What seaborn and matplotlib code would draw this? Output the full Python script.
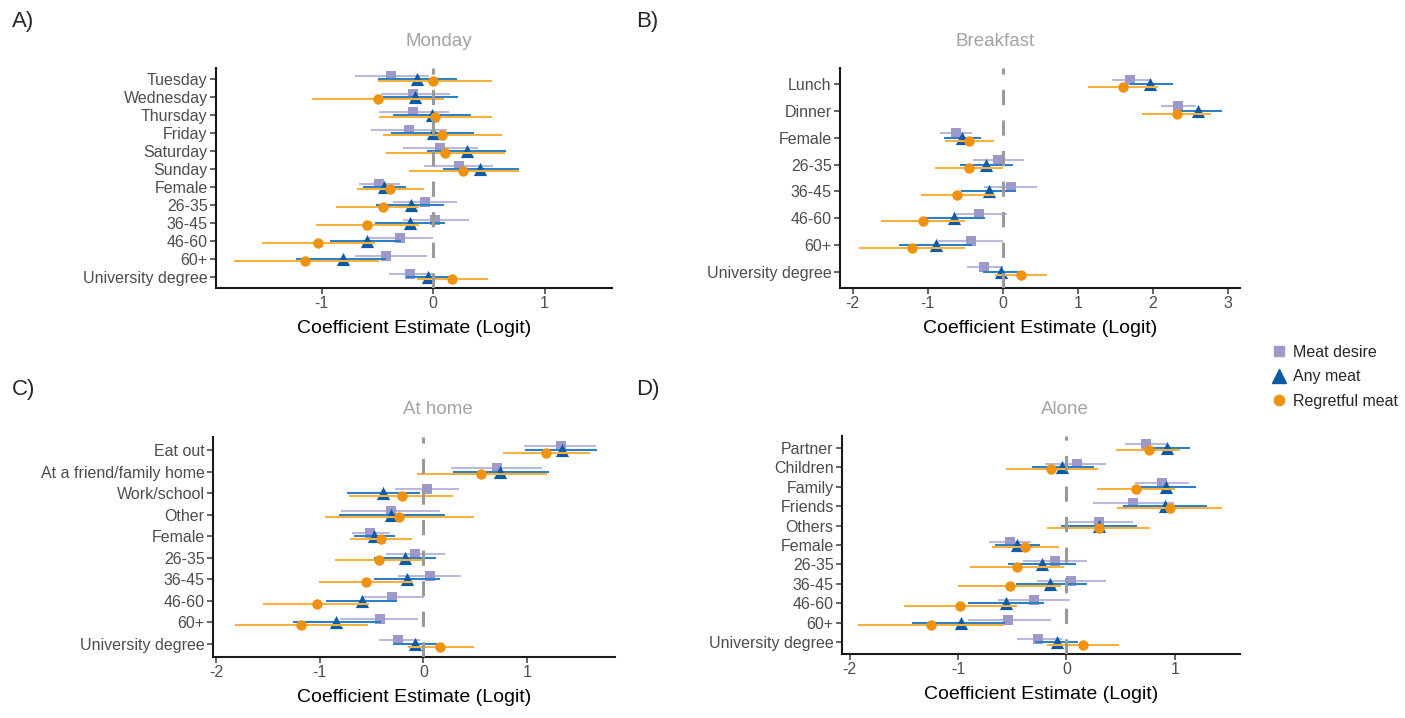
import numpy as np
import pandas as pd
import matplotlib
matplotlib.use("Agg")
import matplotlib.pyplot as plt
from matplotlib.lines import Line2D
import seaborn as sns

# ---- data ----
series = ["Meat desire", "Any meat", "Regretful meat"]

# A) reference: Monday
a_labels = ["Tuesday", "Wednesday", "Thursday", "Friday", "Saturday", "Sunday",
            "Female", "26-35", "36-45", "46-60", "60+", "University degree"]
a_md = [-0.38, -0.18, -0.18, -0.22, 0.06, 0.23, -0.49, -0.07, 0.02, -0.30, -0.42, -0.21]
a_md_lo = [-0.70, -0.47, -0.49, -0.56, -0.27, -0.08, -0.67, -0.36, -0.27, -0.59, -0.70, -0.40]
a_md_hi = [-0.04, 0.15, 0.14, 0.12, 0.40, 0.54, -0.30, 0.21, 0.32, 0.00, -0.06, -0.01]
a_am = [-0.15, -0.16, -0.01, 0.00, 0.30, 0.42, -0.44, -0.20, -0.21, -0.59, -0.81, -0.05]
a_am_lo = [-0.50, -0.45, -0.36, -0.38, -0.06, 0.09, -0.63, -0.51, -0.52, -0.93, -1.23, -0.24]
a_am_hi = [0.21, 0.22, 0.34, 0.37, 0.65, 0.77, -0.24, 0.10, 0.11, -0.29, -0.42, 0.15]
a_rm = [0.00, -0.50, 0.02, 0.08, 0.11, 0.27, -0.39, -0.45, -0.59, -1.03, -1.15, 0.17]
a_rm_lo = [-0.50, -1.09, -0.49, -0.45, -0.42, -0.22, -0.68, -0.87, -1.05, -1.54, -1.79, -0.15]
a_rm_hi = [0.53, 0.10, 0.53, 0.62, 0.64, 0.77, -0.08, -0.13, -0.13, -0.52, -0.49, 0.49]

# B) reference: Breakfast
b_labels = ["Lunch", "Dinner", "Female", "26-35", "36-45", "46-60", "60+", "University degree"]
b_md = [1.69, 2.34, -0.63, -0.07, 0.11, -0.32, -0.42, -0.25]
b_md_lo = [1.45, 2.11, -0.84, -0.40, -0.25, -0.67, -0.86, -0.48]
b_md_hi = [1.96, 2.58, -0.41, 0.28, 0.46, 0.05, 0.00, 0.00]
b_am = [1.96, 2.60, -0.54, -0.22, -0.19, -0.65, -0.89, -0.03]
b_am_lo = [1.69, 2.33, -0.78, -0.57, -0.56, -1.04, -1.38, -0.26]
b_am_hi = [2.27, 2.92, -0.29, 0.14, 0.18, -0.24, -0.41, 0.21]
b_rm = [1.60, 2.32, -0.45, -0.45, -0.61, -1.07, -1.21, 0.24]
b_rm_lo = [1.13, 1.86, -0.77, -0.91, -1.09, -1.62, -1.92, -0.11]
b_rm_hi = [2.07, 2.77, -0.12, 0.00, -0.11, -0.51, -0.51, 0.59]

# C) reference: At home
c_labels = ["Eat out", "At a friend/family home", "Work/school", "Other", "Female",
            "26-35", "36-45", "46-60", "60+", "University degree"]
c_md = [1.33, 0.71, 0.04, -0.31, -0.51, -0.08, 0.06, -0.30, -0.42, -0.24]
c_md_lo = [0.97, 0.27, -0.27, -0.79, -0.69, -0.36, -0.24, -0.60, -0.80, -0.43]
c_md_hi = [1.67, 1.15, 0.34, 0.16, -0.32, 0.21, 0.36, 0.01, -0.05, -0.03]
c_am = [1.34, 0.74, -0.39, -0.31, -0.48, -0.18, -0.16, -0.59, -0.84, -0.08]
c_am_lo = [0.98, 0.29, -0.74, -0.81, -0.67, -0.48, -0.48, -0.94, -1.26, -0.29]
c_am_hi = [1.68, 1.21, -0.03, 0.21, -0.27, 0.12, 0.16, -0.25, -0.41, 0.13]
c_rm = [1.18, 0.56, -0.21, -0.23, -0.41, -0.43, -0.55, -1.03, -1.18, 0.16]
c_rm_lo = [0.77, -0.06, -0.72, -0.95, -0.71, -0.85, -1.01, -1.55, -1.82, -0.15]
c_rm_hi = [1.61, 1.19, 0.29, 0.49, -0.11, -0.01, -0.10, -0.52, -0.53, 0.49]

# D) reference: Alone
d_labels = ["Partner", "Children", "Family", "Friends", "Others", "Female",
            "26-35", "36-45", "46-60", "60+", "University degree"]
d_md = [0.73, 0.10, 0.88, 0.61, 0.30, -0.52, -0.11, 0.04, -0.30, -0.54, -0.26]
d_md_lo = [0.54, -0.20, 0.63, 0.24, -0.01, -0.71, -0.40, -0.27, -0.63, -0.91, -0.46]
d_md_hi = [0.92, 0.36, 1.13, 0.99, 0.61, -0.33, 0.19, 0.36, 0.03, -0.14, -0.04]
d_am = [0.93, -0.04, 0.92, 0.91, 0.30, -0.46, -0.23, -0.15, -0.56, -0.97, -0.09]
d_am_lo = [0.73, -0.32, 0.66, 0.52, -0.05, -0.66, -0.54, -0.47, -0.91, -1.42, -0.29]
d_am_hi = [1.14, 0.25, 1.19, 1.30, 0.65, -0.24, 0.09, 0.19, -0.21, -0.57, 0.11]
d_rm = [0.76, -0.14, 0.64, 0.95, 0.30, -0.38, -0.46, -0.52, -0.98, -1.25, 0.15]
d_rm_lo = [0.46, -0.56, 0.28, 0.47, -0.18, -0.69, -0.89, -1.00, -1.50, -1.92, -0.18]
d_rm_hi = [1.05, 0.29, 1.00, 1.43, 0.77, -0.07, -0.02, -0.05, -0.46, -0.58, 0.48]

panels = [
    ("A)", "Monday", a_labels, [(a_md, a_md_lo, a_md_hi), (a_am, a_am_lo, a_am_hi), (a_rm, a_rm_lo, a_rm_hi)]),
    ("B)", "Breakfast", b_labels, [(b_md, b_md_lo, b_md_hi), (b_am, b_am_lo, b_am_hi), (b_rm, b_rm_lo, b_rm_hi)]),
    ("C)", "At home", c_labels, [(c_md, c_md_lo, c_md_hi), (c_am, c_am_lo, c_am_hi), (c_rm, c_rm_lo, c_rm_hi)]),
    ("D)", "Alone", d_labels, [(d_md, d_md_lo, d_md_hi), (d_am, d_am_lo, d_am_hi), (d_rm, d_rm_lo, d_rm_hi)]),
]

# ---- style ----
point_col = {"Meat desire": "#9d99cb", "Any meat": "#0b5aa8", "Regretful meat": "#ef920f"}
line_col = {"Meat desire": "#bbb8de", "Any meat": "#2b80c9", "Regretful meat": "#f8b23c"}
markers = {"Meat desire": "s", "Any meat": "^", "Regretful meat": "o"}
msize = {"Meat desire": 46, "Any meat": 90, "Regretful meat": 56}
dodge = {"Meat desire": -0.17, "Any meat": 0.0, "Regretful meat": 0.12}

sns.set_theme(style="ticks")
plt.rcParams["font.family"] = ["Liberation Sans", "DejaVu Sans"]

W, H = 1405, 718
fig = plt.figure(figsize=(W / 100, H / 100), dpi=100)

def px_box(l, r, t, b):
    return [l / W, 1 - b / H, (r - l) / W, (b - t) / H]

boxes = [px_box(216, 612, 68, 288), px_box(840, 1240, 68, 288),
         px_box(213, 615, 437, 657), px_box(842, 1240, 436, 654)]
xlims = [(-1.95, 1.605), (-2.17, 3.16), (-2.03, 1.85), (-2.07, 1.60)]
xticks = [[-1, 0, 1], [-2, -1, 0, 1, 2, 3], [-2, -1, 0, 1], [-2, -1, 0, 1]]
letter_pos = [(12, 22), (636, 22), (12, 390), (636, 390)]
title_pos = [(439, 42), (995, 42), (438, 410), (1065, 410)]

for (letter, ref, labels, vals), box, xl, xt, lp, tp in zip(
        panels, boxes, xlims, xticks, letter_pos, title_pos):
    ax = fig.add_axes(box)
    rows = []
    for s, (est, lo, hi) in zip(series, vals):
        for i, lab in enumerate(labels):
            rows.append({"term": lab, "row": i, "series": s,
                         "est": est[i], "lo": lo[i], "hi": hi[i]})
    df = pd.DataFrame(rows)
    df["y"] = df["row"] + df["series"].map(dodge)

    for k, s in enumerate(series):
        sub = df[df["series"] == s]
        ax.hlines(sub["y"], sub["lo"], sub["hi"], color=line_col[s], lw=1.5, zorder=2 + 2 * k)
        sns.scatterplot(data=sub, x="est", y="y", marker=markers[s], color=point_col[s],
                        s=msize[s], linewidth=0, ax=ax, legend=False, zorder=3 + 2 * k)

    ax.axvline(0, color="#9a9a9a", lw=2.2, ls=(0, (5, 5)), zorder=10)

    n = len(labels)
    ax.set_ylim(n - 0.4, -0.6)
    ax.set_yticks(range(n))
    ax.set_yticklabels(labels)
    ax.set_xlim(*xl)
    ax.set_xticks(xt)
    ax.set_xticklabels([str(t) for t in xt])
    ax.set_ylabel("")
    ax.set_xlabel("Coefficient Estimate (Logit)", fontsize=14, color="black", labelpad=6)
    ax.tick_params(axis="both", labelsize=11.5, colors="#4d4d4d", length=4, width=1.2, pad=2)
    sns.despine(ax=ax)
    for sp in ("left", "bottom"):
        ax.spines[sp].set_linewidth(1.5)
        ax.spines[sp].set_color("#1a1a1a")

    fig.text(lp[0] / W, 1 - lp[1] / H, letter, fontsize=16, va="center", ha="left")
    fig.text(tp[0] / W, 1 - tp[1] / H, ref, fontsize=13.5, color="#a3a3a3", va="center", ha="center")

handles = [Line2D([], [], marker=markers[s], color=point_col[s], ls="",
                  markersize=np.sqrt(msize[s])) for s in series]
fig.legend(handles, series, loc="center left", bbox_to_anchor=(1255 / W, 1 - 377 / H),
           frameon=False, fontsize=11.5, handletextpad=0.3, labelspacing=0.6, handlelength=1.2)

fig.savefig("out.png", dpi=100)
